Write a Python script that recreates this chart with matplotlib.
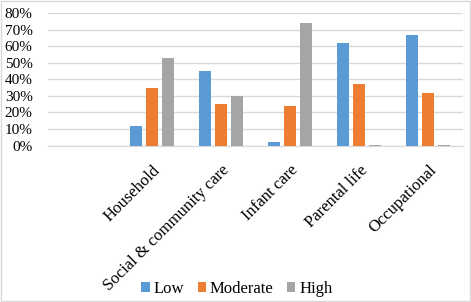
import numpy as np
import matplotlib
matplotlib.use('Agg')
import matplotlib.pyplot as plt
from matplotlib.patches import Rectangle

plt.rcParams['font.family'] = 'Liberation Serif'

# data (percent), first slot is an empty category as in the original
categories = ['', 'Household', 'Social & community care', 'Infant care', 'Parental life', 'Occupational']
low = [0, 12, 45, 2, 62, 67]
moderate = [0, 35, 25, 24, 37, 32]
high = [0, 53, 30, 74, 0.6, 0.6]
series_names = ['Low', 'Moderate', 'High']
colors = ['#5B9BD5', '#ED7D31', '#A5A5A5']

fig = plt.figure(figsize=(4.71, 3.02), dpi=100)
ax = fig.add_axes([48 / 471, 1 - 145.5 / 302, 415 / 471, 132.5 / 302])

x = np.arange(len(categories))
w = 0.174
step = 0.232
for i, (vals, name, c) in enumerate(zip([low, moderate, high], series_names, colors)):
    ax.bar(x + (i - 1) * step, vals, width=w, color=c, label=name, zorder=3)

ax.set_xlim(-0.5, len(categories) - 0.5)
ax.set_ylim(0, 80)
ax.set_yticks(range(0, 81, 10))
ax.set_yticklabels(['%d%%' % v for v in range(0, 81, 10)], fontsize=11)
ax.yaxis.grid(True, color='#D9D9D9', linewidth=1, zorder=0)
ax.tick_params(axis='y', length=0, pad=11)
ax.tick_params(axis='x', length=0, pad=12)
ax.set_xticks(x)
ax.set_xticklabels(categories, rotation=45, ha='right', rotation_mode='anchor', fontsize=12)
for s in ['top', 'right', 'left']:
    ax.spines[s].set_visible(False)
ax.spines['bottom'].set_color('#D9D9D9')

fig.legend(loc='center', bbox_to_anchor=(237 / 471, 1 - 289 / 302), ncol=3, frameon=False,
           fontsize=12, handlelength=0.5, handleheight=0.5, handletextpad=0.25, columnspacing=0.8)

fig.patches.append(Rectangle((0.002, 0.003), 0.995, 0.993, transform=fig.transFigure,
                             fill=False, edgecolor='#D9D9D9', linewidth=1))

plt.savefig('out.png', dpi=100)
